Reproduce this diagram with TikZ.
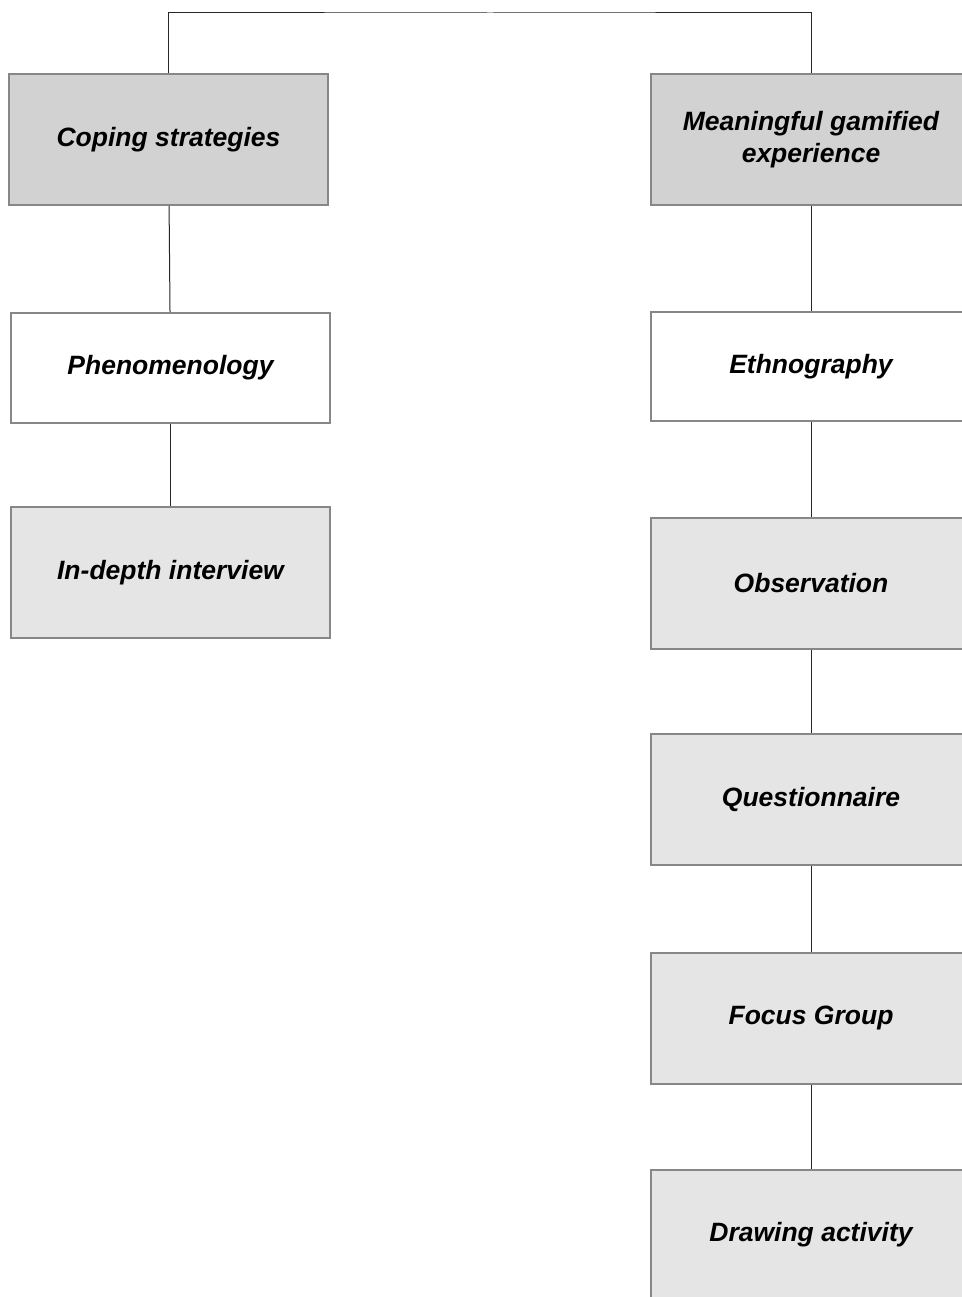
\documentclass[tikz,border=0pt]{standalone}
\usepackage{fontspec}
\setmainfont{Liberation Sans}
\usepackage{tikz}
\usetikzlibrary{positioning}
\definecolor{boxedge}{HTML}{878787}
\definecolor{headfill}{HTML}{D3D2D3}
\definecolor{methfill}{HTML}{E5E5E5}

\begin{document}
\begin{tikzpicture}[x=1pt,y=-1pt,
  box/.style={draw=boxedge,line width=2pt,minimum width=320pt,minimum height=131pt,
    inner sep=0pt,align=center,font=\fontsize{26.5}{32}\selectfont\bfseries\itshape},
  headbox/.style={box,fill=headfill},
  methbox/.style={box,fill=methfill},
  plainbox/.style={box,fill=white,minimum height=110pt},
  link/.style={draw=black!85,line width=1pt}]
\useasboundingbox (0,0) rectangle (961,1297);
% left branch
\node[headbox,minimum width=319pt] (cope) at (168.5,139.5) {Coping strategies};
\node[plainbox,minimum width=319pt] (phen) at (170.5,368) {Phenomenology};
\node[methbox,minimum width=319pt] (intv) at (170.5,572.5) {In-depth interview};
% right branch
\node[headbox] (mean) at (811,139.5) {Meaningful gamified\\experience};
\node[plainbox,minimum height=109pt] (ethn) at (811,366.5) {Ethnography};
\node[methbox] (obsv) at (811,583) {Observation};
\node[methbox] (qnre) at (811,799.5) {Questionnaire};
\node[methbox] (focg) at (811,1018) {Focus Group};
\node[methbox] (draw) at (811,1235) {Drawing activity};
% connectors
\coordinate (top) at (490,13);
\draw[link] (cope.north) |- (top) -| (mean.north);
\draw[link] (cope) -- (phen);
\draw[link] (phen) -- (intv);
\draw[link] (mean) -- (ethn);
\draw[link] (ethn) -- (obsv);
\draw[link] (obsv) -- (qnre);
\draw[link] (qnre) -- (focg);
\draw[link] (focg) -- (draw);
\end{tikzpicture}
\end{document}
